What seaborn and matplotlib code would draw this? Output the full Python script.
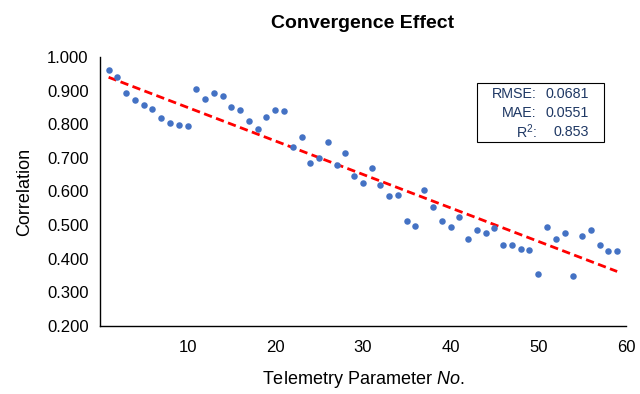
import numpy as np
import pandas as pd
import matplotlib
matplotlib.use("Agg")
import matplotlib.pyplot as plt
import seaborn as sns

# valores
param_no = list(range(1, 60))
correlation = [
    0.961, 0.940, 0.893, 0.872, 0.857, 0.845, 0.819, 0.804, 0.797, 0.795,
    0.905, 0.875, 0.893, 0.884, 0.851, 0.842, 0.810, 0.786, 0.822, 0.842,
    0.839, 0.732, 0.762, 0.685, 0.700, 0.747, 0.679, 0.714, 0.646, 0.625,
    0.670, 0.619, 0.587, 0.590, 0.512, 0.497, 0.604, 0.554, 0.512, 0.494,
    0.524, 0.459, 0.485, 0.477, 0.491, 0.440, 0.440, 0.429, 0.426, 0.355,
    0.494, 0.459, 0.477, 0.349, 0.468, 0.485, 0.440, 0.423, 0.423,
]
metric_names = ["RMSE:", "MAE:", "R$^2$:"]
metric_values = ["0.0681", "0.0551", "0.853"]

df = pd.DataFrame({"param": param_no, "corr": correlation})

sns.set_theme(style="white")
plt.rcParams["font.family"] = ["Liberation Sans", "DejaVu Sans"]
plt.rcParams["mathtext.fontset"] = "custom"
plt.rcParams["mathtext.rm"] = "Liberation Sans"
plt.rcParams["mathtext.it"] = "Liberation Sans:italic"
plt.rcParams["text.color"] = "black"
plt.rcParams["axes.labelcolor"] = "black"

fig = plt.figure(figsize=(6.4, 3.94), dpi=100)
ax = fig.add_axes([0.156, 0.173, 0.822, 0.682])

sns.regplot(data=df, x="param", y="corr", ax=ax, ci=None,
            scatter_kws={"color": "#4472C4", "s": 22, "linewidths": 0, "alpha": 1, "zorder": 3},
            line_kws={"color": "#FF0000", "linestyle": (0, (3, 1.6)), "linewidth": 2.0, "zorder": 2})

ax.set_xlim(0, 60)
ax.set_ylim(0.2, 1.0)
ax.set_xticks([10, 20, 30, 40, 50, 60])
ax.set_yticks(np.arange(0.2, 1.01, 0.1))
ax.yaxis.set_major_formatter(matplotlib.ticker.FormatStrFormatter("%.3f"))
ax.tick_params(axis="both", labelsize=12, length=0, colors="black")
ax.tick_params(axis="x", pad=10)
ax.tick_params(axis="y", pad=8)

for s in ["top", "right"]:
    ax.spines[s].set_visible(False)
for s in ["left", "bottom"]:
    ax.spines[s].set_color("black")
    ax.spines[s].set_linewidth(1.0)

ax.set_xlabel(r"Telemetry Parameter $\it{No.}$", fontsize=13, labelpad=10)
ax.set_ylabel("Correlation", fontsize=13, labelpad=10)
ax.set_title("Convergence Effect", fontsize=14, fontweight="bold", pad=21, color="black")

# caja de métricas
box = matplotlib.patches.Rectangle((0.746, 0.640), 0.197, 0.150, transform=fig.transFigure,
                                   fill=False, edgecolor="black", linewidth=0.8)
fig.patches.append(box)
for i, (n, v) in enumerate(zip(metric_names, metric_values)):
    yy = 0.761 - i * 0.0475
    fig.text(0.839, yy, n, ha="right", va="center", fontsize=10.3, color="#1F3864")
    fig.text(0.920, yy, v, ha="right", va="center", fontsize=10.3, color="#1F3864")

fig.savefig("out.png", dpi=100)
plt.close(fig)
